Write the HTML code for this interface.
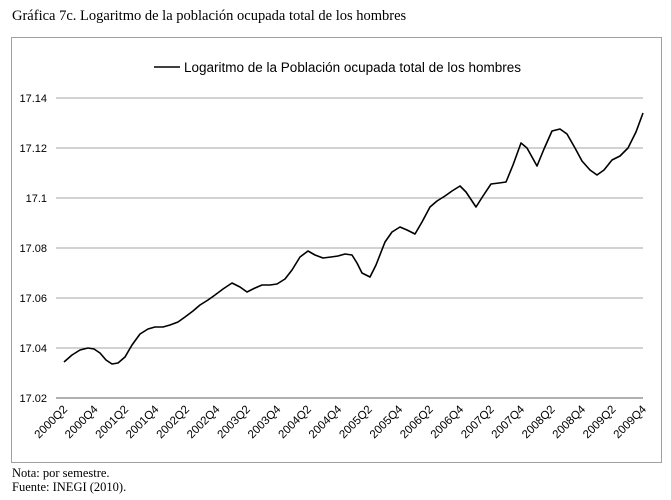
<!DOCTYPE html>
<html><head><meta charset="utf-8"><style>
body{margin:0;background:#fff;}
</style></head><body>
<svg width="671" height="500" xmlns="http://www.w3.org/2000/svg" style="display:block">
<text x="12" y="20" font-family="Liberation Serif, serif" font-size="14.5" fill="#000">Gráfica 7c. Logaritmo de la población ocupada total de los hombres</text>
<rect x="11.5" y="37.5" width="650" height="425" fill="#fff" stroke="#a0a0a0" stroke-width="1"/>
<line x1="154" y1="67" x2="180" y2="67" stroke="#000" stroke-width="1.5"/>
<text x="184" y="72" font-family="Liberation Sans, sans-serif" font-size="13.5" fill="#000">Logaritmo de la Población ocupada total de los hombres</text>
<g stroke="#a6a6a6" stroke-width="1">
<line x1="56" y1="98" x2="643" y2="98"/><line x1="56" y1="148" x2="643" y2="148"/><line x1="56" y1="198" x2="643" y2="198"/><line x1="56" y1="248" x2="643" y2="248"/><line x1="56" y1="298" x2="643" y2="298"/><line x1="56" y1="348" x2="643" y2="348"/>
</g>
<line x1="56" y1="398" x2="643" y2="398" stroke="#808080" stroke-width="1.3"/>
<g font-family="Liberation Sans, sans-serif" font-size="11" fill="#000" text-anchor="end">
<text x="47" y="102">17.14</text><text x="47" y="152">17.12</text><text x="47" y="202">17.1</text><text x="47" y="252">17.08</text><text x="47" y="302">17.06</text><text x="47" y="352">17.04</text><text x="47" y="402">17.02</text>
</g>
<polyline fill="none" stroke="#000" stroke-width="1.6" stroke-linejoin="round" points="64,362 72,355 80,350 88,348 94,349 100,353 106,360 112,364 118,363 125,357 132,345 140,334 148,329 155,327 163,327 170,325 178,322 185,317 193,311 200,305 208,300 215,295 223,289 232,283 240,287 247,292 255,288 262,285 270,285 277,284 285,279 292,270 300,257 308,251 315,255 323,258 331,257 338,256 345,254 352,255 357,263 362,273 370,277 376,265 385,242 392,232 400,227 407,230 415,234 422,222 430,207 437,201 445,196 452,191 460,186 466,192 476,207 483,196 491,184 499,183 506,182 513,165 521,143 527,148 537,166 544,149 552,131 560,129 567,134 575,148 582,161 590,170 597,175 604,170 612,160 620,156 628,148 636,132 643,113"/>
<g font-family="Liberation Sans, sans-serif" font-size="11.5" fill="#000" text-anchor="end">
<text transform="translate(68,410) rotate(-45)">2000Q2</text>
<text transform="translate(98.5,410) rotate(-45)">2000Q4</text>
<text transform="translate(129,410) rotate(-45)">2001Q2</text>
<text transform="translate(159.4,410) rotate(-45)">2001Q4</text>
<text transform="translate(189.9,410) rotate(-45)">2002Q2</text>
<text transform="translate(220.4,410) rotate(-45)">2002Q4</text>
<text transform="translate(250.8,410) rotate(-45)">2003Q2</text>
<text transform="translate(281.3,410) rotate(-45)">2003Q4</text>
<text transform="translate(311.8,410) rotate(-45)">2004Q2</text>
<text transform="translate(342.2,410) rotate(-45)">2004Q4</text>
<text transform="translate(372.7,410) rotate(-45)">2005Q2</text>
<text transform="translate(403.2,410) rotate(-45)">2005Q4</text>
<text transform="translate(433.6,410) rotate(-45)">2006Q2</text>
<text transform="translate(464.1,410) rotate(-45)">2006Q4</text>
<text transform="translate(494.6,410) rotate(-45)">2007Q2</text>
<text transform="translate(525,410) rotate(-45)">2007Q4</text>
<text transform="translate(555.5,410) rotate(-45)">2008Q2</text>
<text transform="translate(586,410) rotate(-45)">2008Q4</text>
<text transform="translate(616.4,410) rotate(-45)">2009Q2</text>
<text transform="translate(646.9,410) rotate(-45)">2009Q4</text>
</g>
<text x="12" y="477" font-family="Liberation Serif, serif" font-size="12.5" fill="#000">Nota: por semestre.</text>
<text x="12" y="491" font-family="Liberation Serif, serif" font-size="12.5" fill="#000">Fuente: INEGI (2010).</text>
</svg>
</body></html>
